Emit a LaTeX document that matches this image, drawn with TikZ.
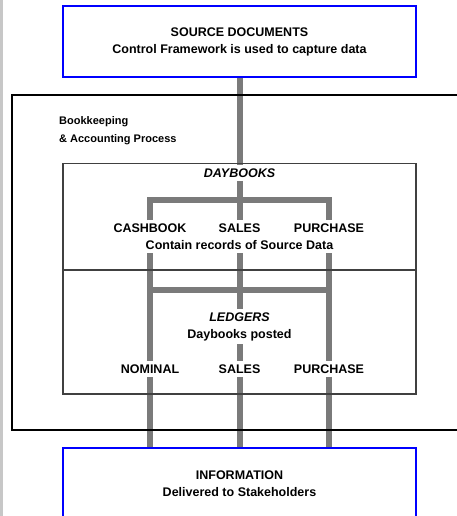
\documentclass[tikz,border=0pt]{standalone}
\usepackage{fontspec}
\setmainfont{Liberation Sans}
\usetikzlibrary{backgrounds}

\begin{document}
\begin{tikzpicture}[x=1pt,y=-1pt,font=\fontsize{12.5}{17}\selectfont\bfseries,
	bluebox/.style={draw=blue,line width=2pt,minimum width=353pt,align=center},
	inbox/.style={draw=black!75,line width=1.2pt,minimum width=353pt},
	pipe/.style={draw=black!52,line width=6pt}]

\useasboundingbox (0,0) rectangle (457,516);
\fill[black!22] (0,0) rectangle (3,516);

\node[bluebox,minimum height=71pt]   (src)  at (239.5,41.5)  {SOURCE DOCUMENTS\\Control Framework is used to capture data};
\node[bluebox,minimum height=72pt]   (info) at (239.5,484)   {INFORMATION\\Delivered to Stakeholders};

	\draw[line width=2pt] (470,95) -| (12,430) -- (470,430);
	\node[anchor=west,align=left,inner sep=0pt,font=\fontsize{11}{18}\selectfont\bfseries] (bk) at (59,131) {Bookkeeping\\\& Accounting Process};

\node[inbox,minimum height=107pt] (dbox) at (239.5,217) {};
\node[inbox,minimum height=124pt] (lbox) at (239.5,332) {};

	\node (dbk)     at (239.5,173) {\itshape DAYBOOKS};
	\node (cash)    at (150,228)   {CASHBOOK};
	\node (dsales)  at (239.5,228) {SALES};
	\node (dpurch)  at (329,228)   {PURCHASE};
	\node (contain) at (239.5,245) {Contain records of Source Data};

	\node (ldg)     at (239.5,317) {\itshape LEDGERS};
	\node (posted)  at (239.5,335) {Daybooks posted};
	\node (nom)     at (150,369)   {NOMINAL};
	\node (lsales)  at (239.5,369) {SALES};
	\node (lpurch)  at (329,369)   {PURCHASE};

\coordinate (dbar) at (239.5,200);
\coordinate (lbar) at (239.5,290);

\begin{scope}[on background layer]
	\draw[pipe] (src) -- (dbk);
	\draw[pipe] (dbk) -- (dbar);
	\draw[pipe] (cash) |- (dbar) -| (dpurch);
	\draw[pipe] (dbar) -- (dsales);

	\draw[pipe] (contain.south -| cash) -- (nom);
	\draw[pipe] (contain) -- (ldg);
	\draw[pipe] (contain.south -| dpurch) -- (lpurch);
	\draw[pipe] (lbar -| cash) -- (lbar -| dpurch);
	\draw[pipe] (posted) -- (lsales);

	\draw[pipe] (nom) -- (nom |- info.north);
	\draw[pipe] (lsales) -- (info);
	\draw[pipe] (lpurch) -- (lpurch |- info.north);
\end{scope}

\end{tikzpicture}
\end{document}
